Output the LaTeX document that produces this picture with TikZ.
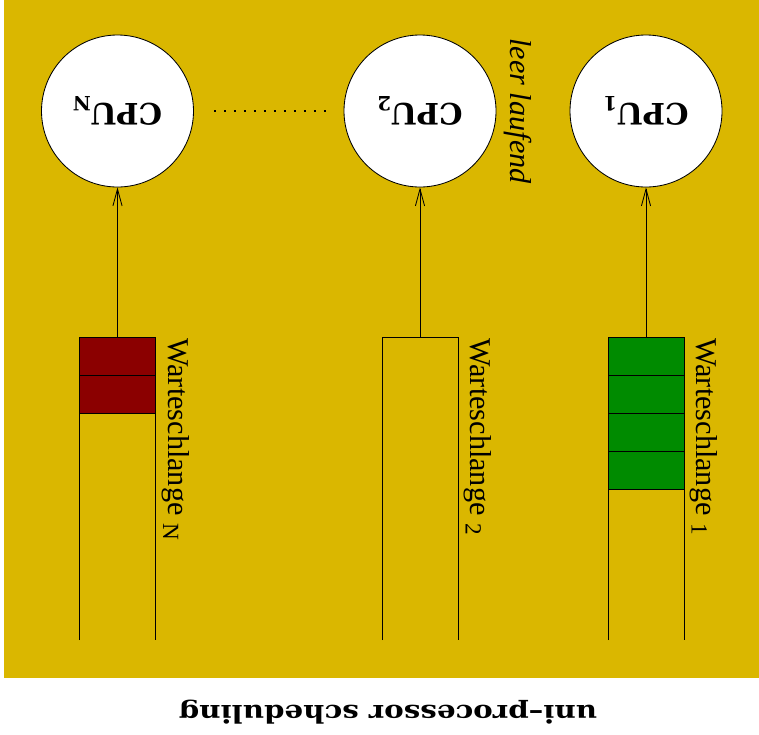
\documentclass[tikz,border=0pt]{standalone}
\usepackage{fontspec}
\setmainfont{Liberation Serif}
\newfontfamily\cpufont{DejaVu Serif}
\newfontfamily\titlefont[FakeStretch=1.19]{DejaVu Serif}
\usetikzlibrary{arrows.meta}
\definecolor{bggold}{RGB}{218,183,0}
\definecolor{jobred}{RGB}{139,0,0}
\definecolor{jobgreen}{RGB}{0,139,0}
\newcommand{\cpusub}[1]{\raisebox{-5.5pt}{\fontsize{14}{16}\selectfont#1}}
\newcommand{\qsub}[1]{\raisebox{-3.5pt}{\fontsize{16.5}{18}\selectfont#1}}
\tikzset{
  cpu/.style={draw, circle, fill=white, minimum size=3.8cm, line width=0.6pt,
    rotate=180, font=\cpufont\bfseries\fontsize{21}{24}\selectfont},
  qlabel/.style={rotate=-90, anchor=base west, inner sep=0pt,
    font=\fontsize{21.5}{24}\selectfont},
  feed/.style={line width=0.6pt, -{Straight Barb[length=12pt, width=6.5pt]}}
}

\begin{document}
\begin{tikzpicture}[scale=1, line width=0.6pt]
\useasboundingbox (0,0) rectangle (18.975,-18.35);
\fill[bggold] (0.1,0) rectangle (18.975,-16.95);

% processors
\node[cpu] (cpuN) at (2.9375,-2.775) {CPU\cpusub{N}};
\node[cpu] (cpu2) at (10.5,-2.775) {CPU\cpusub{2}};
\node[cpu] (cpu1) at (16.15,-2.775) {CPU\cpusub{1}};
\coordinate (dotsA) at (5.35,-2.775);
\coordinate (dotsB) at (8.24,-2.775);
\draw[line width=1pt, dash pattern=on 1.5pt off 5.61pt] (dotsA) -- (dotsB);
\node[rotate=-90, anchor=base west, inner sep=0pt, font=\itshape\fontsize{21.5}{24}\selectfont]
  (idle) at (12.75,-0.95) {leer laufend};

% queue N
\fill[jobred] (1.9875,-8.4375) rectangle (3.8875,-10.3375);
\draw (1.9875,-8.4375) rectangle (3.8875,-9.3875);
\draw (1.9875,-9.3875) rectangle (3.8875,-10.3375);
\draw (1.9875,-16) -- (1.9875,-8.4375) -- (3.8875,-8.4375) -- (3.8875,-16);
\coordinate (qN) at (2.9375,-8.4375);
\node[qlabel] (labN) at (4.2,-8.45) {Warteschlange \qsub{N}};

% queue 2 (empty)
\draw (9.55,-16) -- (9.55,-8.4375) -- (11.45,-8.4375) -- (11.45,-16);
\coordinate (q2) at (10.5,-8.4375);
\node[qlabel] (lab2) at (11.7625,-8.45) {Warteschlange \qsub{2}};

% queue 1
\fill[jobgreen] (15.2,-8.4375) rectangle (17.1,-12.2375);
\draw (15.2,-8.4375) rectangle (17.1,-9.3875);
\draw (15.2,-9.3875) rectangle (17.1,-10.3375);
\draw (15.2,-10.3375) rectangle (17.1,-11.2875);
\draw (15.2,-11.2875) rectangle (17.1,-12.2375);
\draw (15.2,-16) -- (15.2,-8.4375) -- (17.1,-8.4375) -- (17.1,-16);
\coordinate (q1) at (16.15,-8.4375);
\node[qlabel] (lab1) at (17.4125,-8.45) {Warteschlange \qsub{1}};

% queue heads to processors
\draw[feed] (qN) -- (cpuN);
\draw[feed] (q2) -- (cpu2);
\draw[feed] (q1) -- (cpu1);

\node[rotate=180, font=\titlefont\bfseries\fontsize{17.5}{20}\selectfont] (title) at (9.7,-17.8)
  {uni–processor scheduling};
\end{tikzpicture}
\end{document}
